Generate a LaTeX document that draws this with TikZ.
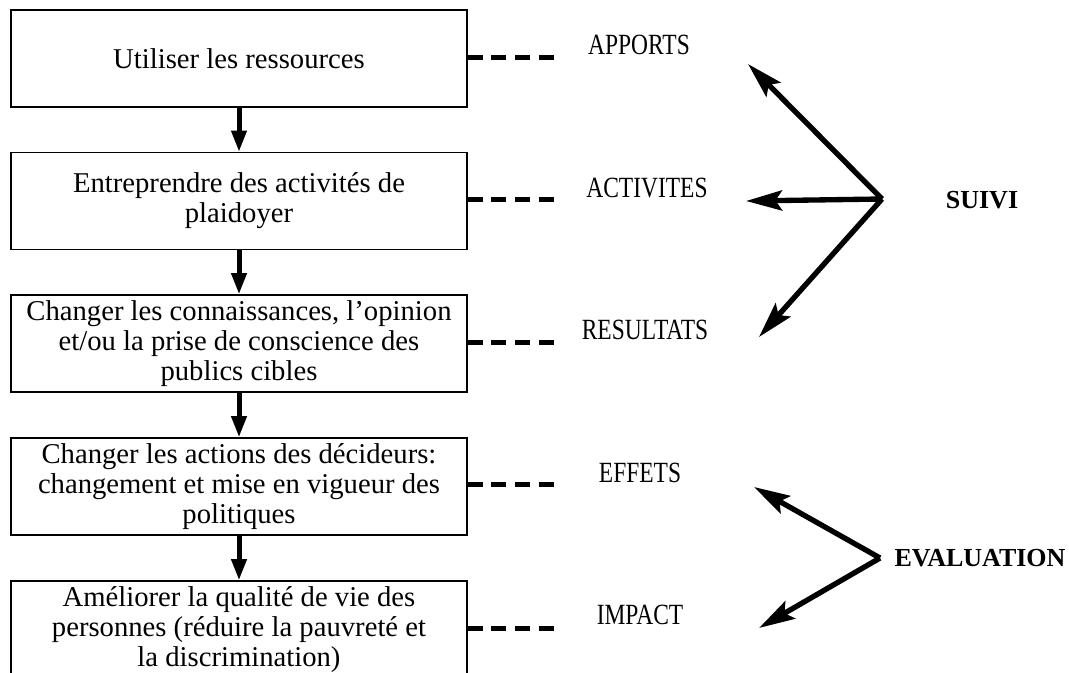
\documentclass[tikz,border=0pt]{standalone}
\usepackage{fontspec}
\setmainfont{Liberation Serif}
\usetikzlibrary{arrows.meta}
\begin{document}
\begin{tikzpicture}[x=0.75pt,y=-0.75pt,
  box/.style={draw, line width=0.9pt, minimum width=342pt, minimum height=72.75pt,
    inner xsep=0pt, inner ysep=0pt, align=center,
    font=\fontsize{21.5pt}{22.5pt}\selectfont},
  lab/.style={font=\fontsize{22pt}{22pt}\selectfont, inner sep=0pt},
  cat/.style={font=\fontsize{19.5pt}{22pt}\selectfont\bfseries, inner sep=0pt},
  flow/.style={line width=3.75pt, -{Triangle[length=16pt,width=11pt]}},
  link/.style={line width=3.75pt, dash pattern=on 11.25pt off 6.5pt},
  mon/.style={line width=4pt, -{Stealth[length=27pt,width=15pt,inset=5pt]}}
]
\clip (0,0) rectangle (1069,673);

\node[box] (b1) at (239,58.5) {Utiliser les ressources};
\node[box] (b2) at (239,201) {Entreprendre des activités de\\plaidoyer};
\node[box] (b3) at (239,343.5) {Changer les connaissances, l’opinion\\et/ou la prise de conscience des\\publics cibles};
\node[box] (b4) at (239,486.5) {Changer les actions des décideurs:\\changement et mise en vigueur des\\politiques};
\node[box] (b5) at (239,629.5) {Améliorer la qualité de vie des\\personnes (réduire la pauvreté et\\la discrimination)};

\draw[flow] (b1.south) -- (b2.north);
\draw[flow] (b2.south) -- (b3.north);
\draw[flow] (b3.south) -- (b4.north);
\draw[flow] (b4.south) -- (b5.north);

\coordinate (d1) at (555,57.5);
\coordinate (d2) at (555,200);
\coordinate (d3) at (555,342);
\coordinate (d4) at (555,484);
\coordinate (d5) at (555,628);
\draw[link] (b1.east |- d1) -- (d1);
\draw[link] (b2.east |- d2) -- (d2);
\draw[link] (b3.east |- d3) -- (d3);
\draw[link] (b4.east |- d4) -- (d4);
\draw[link] (b5.east |- d5) -- (d5);

\node[lab] (l1) at (639,45) {\scalebox{0.8}[1]{APPORTS}};
\node[lab] (l2) at (647,188) {\scalebox{0.8}[1]{ACTIVITES}};
\node[lab] (l3) at (645,330) {\scalebox{0.8}[1]{RESULTATS}};
\node[lab] (l4) at (640,473) {\scalebox{0.8}[1]{EFFETS}};
\node[lab] (l5) at (640,615) {\scalebox{0.8}[1]{IMPACT}};

\node[cat] (suivi) at (982,200) {SUIVI};
\node[cat] (eval) at (980,558) {EVALUATION};

\coordinate (s0) at (882,199);
\coordinate (s1) at (748,64);
\coordinate (s2) at (746,201);
\coordinate (s3) at (759,337);
\draw[mon] (s0) -- (s1);
\draw[mon] (s0) -- (s2);
\draw[mon] (s0) -- (s3);

\coordinate (e0) at (880,558);
\coordinate (e1) at (754,487);
\coordinate (e2) at (759,628);
\draw[mon] (e0) -- (e1);
\draw[mon] (e0) -- (e2);
\end{tikzpicture}
\end{document}
